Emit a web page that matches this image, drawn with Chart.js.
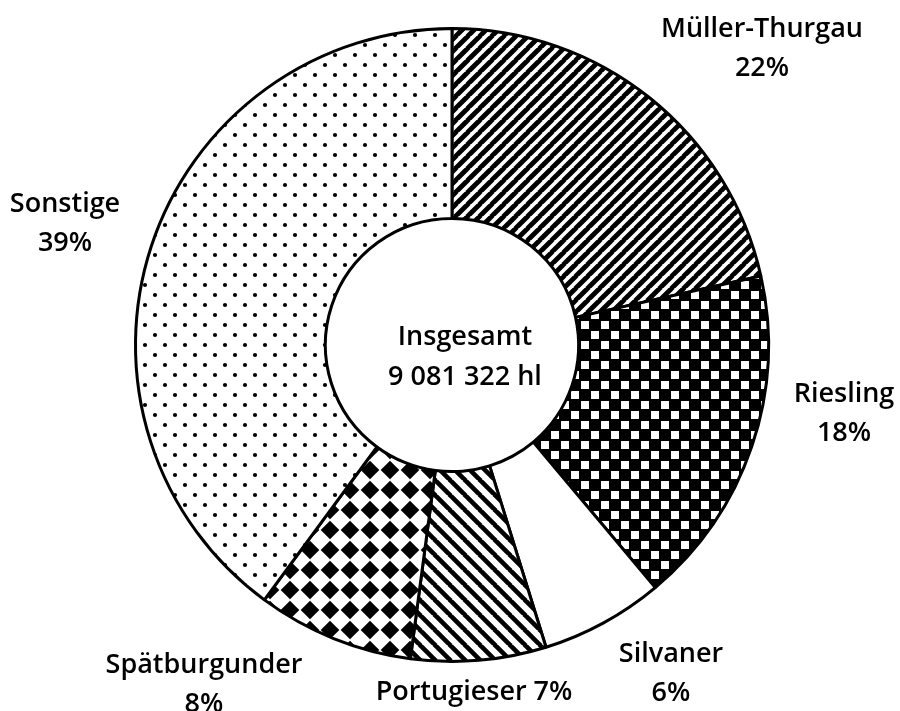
<!DOCTYPE html>
<html>
<head>
<meta charset="utf-8">
<script src="https://cdn.jsdelivr.net/npm/chart.js@4"></script>
<style>
  html, body { margin: 0; padding: 0; background: #ffffff; }
  #wrap { width: 900px; height: 711px; position: relative; }
</style>
</head>
<body>
<div id="wrap"><canvas id="c" width="900" height="711"></canvas></div>
<script>
// ---- data ----
const categories = ['Müller-Thurgau', 'Riesling', 'Silvaner', 'Portugieser', 'Spätburgunder', 'Sonstige'];
const shares = [21.5, 17.4, 6.3, 6.9, 8.0, 39.9];           // slice sizes as drawn
const shareLabels = ['22%', '18%', '6%', '7%', '8%', '39%']; // printed percentages
const centerLines = ['Insgesamt', '9 081 322 hl'];

// ---- fill patterns ----
function tile(w, h, draw) {
  const c = document.createElement('canvas');
  c.width = w; c.height = h;
  const x = c.getContext('2d');
  draw(x, w, h);
  return x.createPattern(c, 'repeat');
}
function stripes(size, width, dir) {
  return tile(size, size, (x, w, h) => {
    x.fillStyle = '#fff'; x.fillRect(0, 0, w, h);
    x.strokeStyle = '#000'; x.lineWidth = width;
    x.beginPath();
    for (let k = -1; k <= 1; k++) {
      if (dir > 0) { x.moveTo(k * w - 1, h + 1); x.lineTo(k * w + w + 1, -1); }
      else { x.moveTo(k * w - 1, -1); x.lineTo(k * w + w + 1, h + 1); }
    }
    x.stroke();
  });
}
const patMueller = stripes(12, 4.8, 1);
const patPortug = stripes(15, 4.6, -1);
const patRiesling = tile(20, 20, (x, w, h) => {
  x.fillStyle = '#000'; x.fillRect(0, 0, w, h);
  x.fillStyle = '#fff';
  x.fillRect(1, 1, 8, 8);
  x.fillRect(11, 11, 8, 8);
});
const patSpaet = tile(20, 20, (x, w, h) => {
  x.fillStyle = '#fff'; x.fillRect(0, 0, w, h);
  x.fillStyle = '#000';
  const r = 9.3;
  const d = (cx, cy) => { x.beginPath(); x.moveTo(cx, cy - r); x.lineTo(cx + r, cy); x.lineTo(cx, cy + r); x.lineTo(cx - r, cy); x.closePath(); x.fill(); };
  d(10, 10);
});
const patDots = tile(20, 20, (x, w, h) => {
  x.fillStyle = '#fff'; x.fillRect(0, 0, w, h);
  x.fillStyle = '#000';
  [[5, 5], [15, 15]].forEach(([a, b]) => { x.beginPath(); x.arc(a, b, 2.1, 0, Math.PI * 2); x.fill(); });
});
const fills = [patMueller, patRiesling, '#ffffff', patPortug, patSpaet, patDots];

// ---- label placement (offsets from chart centre, px) ----
const FONT = '600 27px "Open Sans", Lato, sans-serif';
const labelPlace = [
  { dx: 310, dy: -308, two: true },
  { dx: 392, dy: 57, two: true },
  { dx: 219, dy: 317, two: true },
  { dx: 22, dy: 355, two: false },
  { dx: -248, dy: 328, two: true },
  { dx: -387, dy: -133, two: true }
];

const textPlugin = {
  id: 'texts',
  afterDraw(chart) {
    const ctx = chart.ctx;
    const arc = chart.getDatasetMeta(0).data[0];
    const cx = arc.x, cy = arc.y;
    ctx.save();
    ctx.fillStyle = '#000';
    ctx.font = FONT;
    ctx.textAlign = 'center';
    ctx.textBaseline = 'alphabetic';
    ctx.fillText(centerLines[0], cx + 13, cy);
    ctx.fillText(centerLines[1], cx + 13, cy + 40);
    categories.forEach((name, i) => {
      const p = labelPlace[i];
      if (p.two) {
        ctx.fillText(name, cx + p.dx, cy + p.dy);
        ctx.fillText(shareLabels[i], cx + p.dx, cy + p.dy + 39);
      } else {
        ctx.fillText(name + ' ' + shareLabels[i], cx + p.dx, cy + p.dy);
      }
    });
    ctx.restore();
  }
};

new Chart(document.getElementById('c'), {
  type: 'doughnut',
  data: {
    labels: categories,
    datasets: [{
      data: shares,
      backgroundColor: fills,
      borderColor: '#000',
      borderWidth: 3,
      borderAlign: 'center',
      hoverOffset: 0
    }]
  },
  options: {
    responsive: false,
    animation: false,
    events: [],
    cutout: '40%',
    rotation: 0,
    layout: { padding: { left: 134, right: 130, top: 26, bottom: 47 } },
    plugins: { legend: { display: false }, tooltip: { enabled: false } }
  },
  plugins: [textPlugin]
});
</script>
</body>
</html>
